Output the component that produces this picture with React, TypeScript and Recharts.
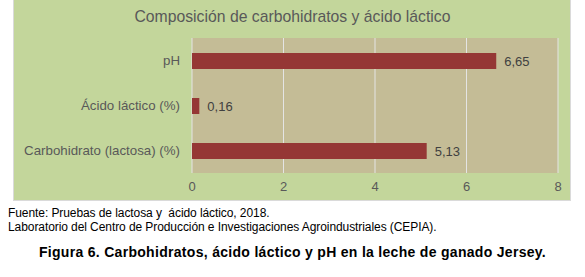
import React from "react";
import { BarChart, Bar, XAxis, YAxis, CartesianGrid, LabelList } from "recharts";

const categories = ["pH", "Ácido láctico (%)", "Carbohidrato (lactosa) (%)"];
const values = [6.65, 0.16, 5.13];
const xTicks = [0, 2, 4, 6, 8];
const title = "Composición de carbohidratos y ácido láctico";
const sourceLines = [
  "Fuente: Pruebas de lactosa y  ácido láctico, 2018.",
  "Laboratorio del Centro de Producción e Investigaciones Agroindustriales (CEPIA).",
];
const caption = "Figura 6. Carbohidratos, ácido láctico y pH en la leche de ganado Jersey.";

const data = categories.map((name, i) => ({ name, value: values[i] }));
const fmt = (v: number) => v.toFixed(2).replace(".", ",");
const font = "'Liberation Sans', Arial, sans-serif";

export default function App() {
  return (
    <div style={{ position: "absolute", left: 0, top: 0, width: 585, height: 277, background: "#fff", fontFamily: font }}>
      <div style={{ position: "absolute", left: 13, top: 0, width: 558, height: 201, background: "#C3D69B", boxSizing: "border-box", borderLeft: "1px solid #DADADA", borderRight: "1px solid #DADADA", borderBottom: "1px solid #DADADA" }}>
        <div style={{ position: "absolute", left: 0, top: 8, width: 557, textAlign: "center", fontSize: 15.75, color: "#595959" }}>{title}</div>
        <BarChart width={557} height={200} data={data} layout="vertical" margin={{ top: 38, right: 13, bottom: 0, left: 0 }}>
          <CartesianGrid horizontal={false} vertical={true} stroke="#E4E4E4" fill="#C4BC96" />
          <XAxis type="number" domain={[0, 8]} ticks={xTicks} axisLine={false} tickLine={false} tickSize={6} tickMargin={3} height={27} tick={{ fill: "#595959", fontSize: 13, fontFamily: font }} />
          <YAxis type="category" dataKey="name" width={178} axisLine={false} tickLine={false} tickSize={6} tickMargin={6} tick={{ fill: "#595959", fontSize: 13.3, fontFamily: font }} />
          <Bar dataKey="value" fill="#953735" barSize={16} isAnimationActive={false}>
            <LabelList dataKey="value" position="right" offset={8} formatter={(v: any) => fmt(Number(v))} style={{ fill: "#404040", fontSize: 13, fontFamily: font }} />
          </Bar>
        </BarChart>
      </div>
      <div style={{ position: "absolute", left: 8, top: 206, fontSize: 12, lineHeight: "14px", color: "#000", letterSpacing: -0.08 }}>
        {sourceLines.map((l, i) => (
          <div key={i} style={{ whiteSpace: "pre" }}>{l}</div>
        ))}
      </div>
      <div style={{ position: "absolute", left: 0, top: 244, width: 585, textAlign: "center", fontSize: 14, fontWeight: "bold", color: "#000", letterSpacing: 0.3 }}>{caption}</div>
    </div>
  );
}
